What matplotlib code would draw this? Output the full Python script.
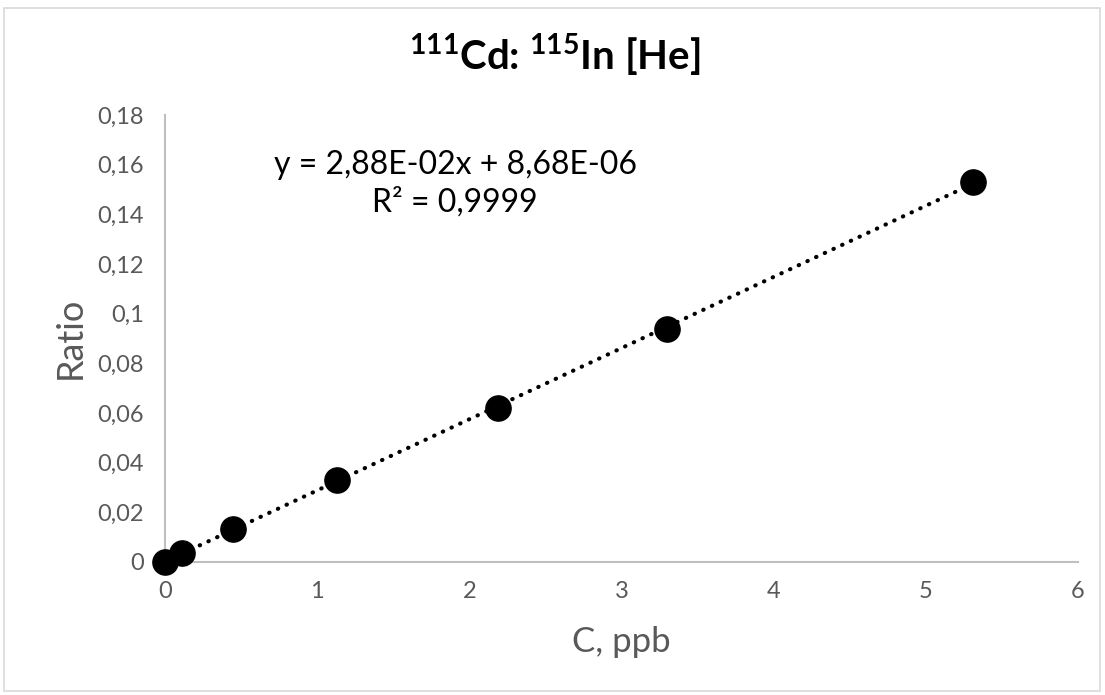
import numpy as np
import matplotlib
matplotlib.use("Agg")
import matplotlib.pyplot as plt
from matplotlib.patches import Rectangle

conc_ppb = [0.0, 0.11, 0.45, 1.13, 2.19, 3.30, 5.31]
ratio = [0.0, 0.0036, 0.0133, 0.0331, 0.0621, 0.0940, 0.1530]
y_ticks = [0, 0.02, 0.04, 0.06, 0.08, 0.10, 0.12, 0.14, 0.16, 0.18]
y_tick_labels = ["0", "0,02", "0,04", "0,06", "0,08", "0,1", "0,12", "0,14", "0,16", "0,18"]
x_ticks = [0, 1, 2, 3, 4, 5, 6]
x_tick_labels = ["0", "1", "2", "3", "4", "5", "6"]
title_text = r"$^{\mathbf{111}}$Cd: $^{\mathbf{115}}$In [He]"
equation_text = "y = 2,88E-02x + 8,68E-06\nR² = 0,9999"

plt.rcParams['font.family'] = ['Lato', 'DejaVu Sans']
plt.rcParams['mathtext.fontset'] = 'custom'
plt.rcParams['mathtext.rm'] = 'Lato'
plt.rcParams['mathtext.bf'] = 'Lato:bold'

fig = plt.figure(figsize=(11.05, 6.95), dpi=100)
ax = fig.add_axes([165/1105, 133/695, (1078-165)/1105, (562-115)/695])

gray_txt = "#595959"
gray_ax = "#BFBFBF"

# trendline
slope, intercept = np.polyfit(conc_ppb, ratio, 1)
xs = np.array([0.0, max(conc_ppb)])
ax.plot(xs, slope*xs + intercept, color="black", lw=3.0,
        linestyle=(0, (0.1, 2.2)), dash_capstyle="round", zorder=2)

ax.scatter(conc_ppb, ratio, s=330, color="black", zorder=3, clip_on=False)

ax.set_xlim(0, 6)
ax.set_ylim(0, 0.18)
ax.set_xticks(x_ticks)
ax.set_xticklabels(x_tick_labels)
ax.set_yticks(y_ticks)
ax.set_yticklabels(y_tick_labels)
ax.tick_params(length=0, labelsize=17, colors=gray_txt, pad=14)
ax.tick_params(axis='y', pad=15)
for s in ["top", "right"]:
    ax.spines[s].set_visible(False)
for s in ["left", "bottom"]:
    ax.spines[s].set_color(gray_ax)
    ax.spines[s].set_linewidth(1.5)

fig.text(70/1105, 1-338/695, "Ratio", rotation=90, ha="center", va="center",
         fontsize=26, color=gray_txt)
fig.text(621/1105, 1-642/695, "C, ppb", ha="center", va="center",
         fontsize=25, color=gray_txt)
fig.text(555/1105, 1-55/695, title_text, ha="center", va="center",
         fontsize=29, fontweight="bold", color="black")
fig.text(455/1105, 1-184/695, equation_text, ha="center", va="center",
         fontsize=23, color="black", linespacing=1.3)

fig.patches.append(Rectangle((4/1105, 4/695), 1096/1105, 683/695, transform=fig.transFigure,
                             fill=False, edgecolor="#D9D9D9", lw=1.2))

fig.savefig("out.png", dpi=100)
